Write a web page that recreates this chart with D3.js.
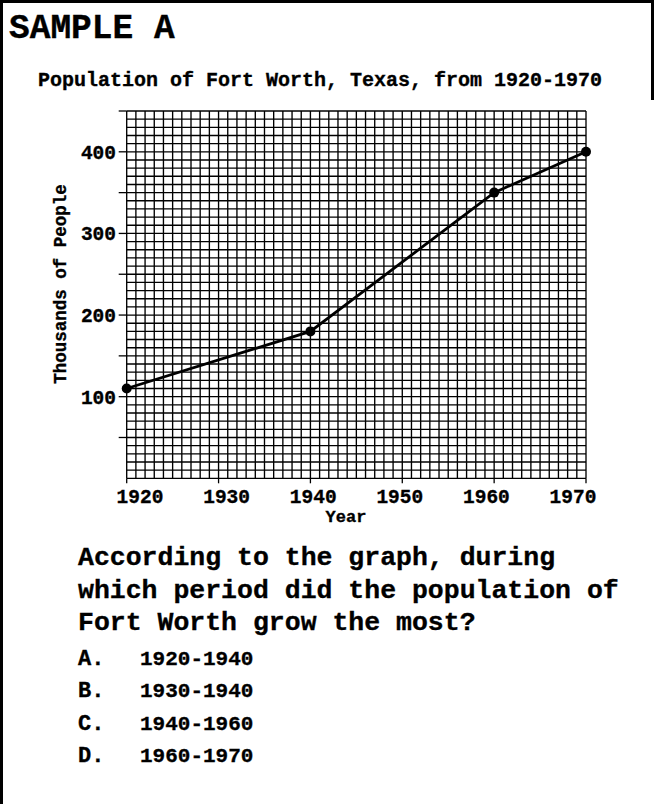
<!DOCTYPE html>
<html>
<head>
<meta charset="utf-8">
<script src="https://cdn.jsdelivr.net/npm/d3@7"></script>
<style>
  html, body { margin: 0; padding: 0; background: #fff; }
  svg text { font-family: "Liberation Mono", "Courier New", monospace; font-weight: bold; fill: #000; stroke: #000; stroke-width: 0.35px; }
</style>
</head>
<body>
<svg id="chart" width="654" height="804"></svg>
<script>
// ---- data ----
const years = [1920, 1940, 1960, 1970];
const population = [110, 180, 350, 400];   // thousands of people
const xTickValues = [1920, 1930, 1940, 1950, 1960, 1970];
const yTickLabels = [100, 200, 300, 400];
const yMinorTicks = [50, 150, 250, 350, 450];
const questionLines = [
  "According to the graph, during",
  "which period did the population of",
  "Fort Worth grow the most?"
];
const optionLetters = ["A.", "B.", "C.", "D."];
const optionRanges = ["1920-1940", "1930-1940", "1940-1960", "1960-1970"];

const svg = d3.select("#chart");

// page border
svg.append("rect").attr("x", 0).attr("y", 0).attr("width", 654).attr("height", 3).attr("fill", "#000");
svg.append("rect").attr("x", 0).attr("y", 0).attr("width", 3).attr("height", 804).attr("fill", "#000");
svg.append("rect").attr("x", 651).attr("y", 0).attr("width", 3).attr("height", 100).attr("fill", "#000");

svg.append("text").attr("x", 9).attr("y", 38).attr("font-size", 34.5).text("SAMPLE A");
svg.append("text").attr("x", 38).attr("y", 86).attr("font-size", 20).text("Population of Fort Worth, Texas, from 1920-1970");

const x = d3.scaleLinear().domain([1920, 1970]).range([126.7, 586]);
const y = d3.scaleLinear().domain([0, 450]).range([478.3, 111]);
// label positions (labels sit slightly offset in the scanned original)
const xLabel = d3.scaleLinear().domain([1920, 1970]).range([140, 573]);

const grid = svg.append("g").attr("stroke", "#000").attr("stroke-width", 1.35);
d3.range(1920, 1971, 1).forEach(v => {
  grid.append("line").attr("x1", x(v)).attr("x2", x(v)).attr("y1", y(0)).attr("y2", y(450));
});
d3.range(0, 451, 10).forEach(v => {
  grid.append("line").attr("x1", x(1920)).attr("x2", x(1970)).attr("y1", y(v)).attr("y2", y(v));
});

// y ticks
const yt = svg.append("g").attr("stroke", "#000").attr("stroke-width", 1.3);
yTickLabels.concat(yMinorTicks).forEach(v => {
  yt.append("line").attr("x1", x(1920) - 8).attr("x2", x(1920)).attr("y1", y(v)).attr("y2", y(v));
});
svg.append("g").selectAll("text").data(yTickLabels).join("text")
  .attr("x", 116).attr("y", d => y(d)).attr("dy", "0.35em")
  .attr("text-anchor", "end").attr("font-size", 19.5).text(d => d);

// x ticks
xTickValues.forEach(v => {
  yt.append("line").attr("x1", x(v)).attr("x2", x(v)).attr("y1", y(0)).attr("y2", y(0) + 5);
});
svg.append("g").selectAll("text").data(xTickValues).join("text")
  .attr("x", d => xLabel(d)).attr("y", 503)
  .attr("text-anchor", "middle").attr("font-size", 19.5).text(d => d);

svg.append("text").attr("x", 346).attr("y", 521.5).attr("text-anchor", "middle").attr("font-size", 17).text("Year");
svg.append("text").attr("transform", "translate(66,284) rotate(-90)")
  .attr("text-anchor", "middle").attr("font-size", 17.5).text("Thousands of People");

// line + points
const pts = years.map((yr, i) => [yr, population[i]]);
svg.append("path").datum(pts)
  .attr("fill", "none").attr("stroke", "#000").attr("stroke-width", 2.8)
  .attr("d", d3.line().x(d => x(d[0])).y(d => y(d[1])));
svg.append("g").selectAll("circle").data(pts).join("circle")
  .attr("cx", d => x(d[0])).attr("cy", d => y(d[1])).attr("r", 5).attr("fill", "#000");

// question
svg.append("g").selectAll("text").data(questionLines).join("text")
  .attr("x", 78).attr("y", (d, i) => 565 + i * 32.5)
  .attr("font-size", 26.5).text(d => d);

svg.append("g").selectAll("text").data(optionLetters).join("text")
  .attr("x", 78).attr("y", (d, i) => 665 + i * 32.3)
  .attr("font-size", 22).text(d => d);
svg.append("g").selectAll("text").data(optionRanges).join("text")
  .attr("x", 140).attr("y", (d, i) => 665 + i * 32.3)
  .attr("font-size", 21).text(d => d);
</script>
</body>
</html>
